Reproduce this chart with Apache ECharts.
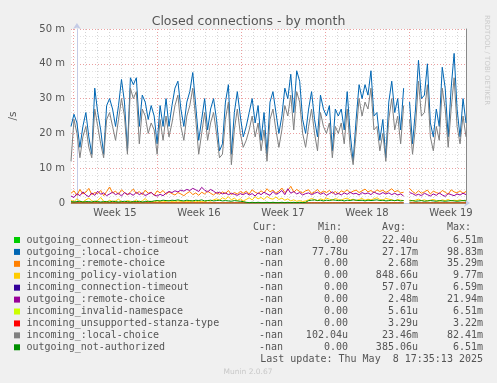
<!DOCTYPE html>
<html><head><meta charset="utf-8">
<script src="https://cdn.jsdelivr.net/npm/echarts@6/dist/echarts.min.js"></script>
<style>html,body{margin:0;padding:0;background:#f0f0f0}#c{width:497px;height:383px}</style>
</head><body><div id="c"></div><script>
// ---------- data ----------
const TITLE = 'Closed connections - by month';
const Y_UNIT = '/s';
const WEEK_LABELS = ['Week 15', 'Week 16', 'Week 17', 'Week 18', 'Week 19'];
const X_MIN = -0.5, X_MAX = 32.75, X_STEP = 0.25;   // days since Monday of week 15
const Y_MAX = 50, Y_STEP = 10;                      // in milli (m)

const SERIES_NAMES = ['outgoing_connection-timeout', 'outgoing_:local-choice', 'incoming_:remote-choice',
  'incoming_policy-violation', 'incoming_connection-timeout', 'outgoing_:remote-choice',
  'incoming_invalid-namespace', 'incoming_unsupported-stanza-type', 'incoming_:local-choice',
  'outgoing_not-authorized'];
const SERIES_COLORS = ['#00CC00', '#0066B3', '#FF8000', '#FFCC00', '#330099', '#990099',
  '#CCFF00', '#FF0000', '#808080', '#008F00'];
const CUR = ['-nan', '-nan', '-nan', '-nan', '-nan', '-nan', '-nan', '-nan', '-nan', '-nan'];
const MIN = ['0.00', '77.78u', '0.00', '0.00', '0.00', '0.00', '0.00', '0.00', '102.04u', '0.00'];
const AVG = ['22.40u', '27.17m', '2.68m', '848.66u', '57.07u', '2.48m', '5.61u', '3.29u', '23.46m', '385.06u'];
const MAX = ['6.51m', '98.83m', '35.29m', '9.77m', '6.59m', '21.94m', '6.51m', '3.22m', '82.41m', '6.51m'];
const LAST_UPDATE = 'Last update: Thu May  8 17:35:13 2025';
const FOOTER = 'Munin 2.0.67';
const SIDE_TEXT = 'RRDTOOL / TOBI OETIKER';

const outgoing_connection_timeout = [
0,0,0,0,0,0,0,0,0,0, 0,0,0,0,0,0,0,0,0,0, 0,0,0,0,0,0,0,0,0,0, 0,0,0,0,0,0,0,0,0,0,
0,0,0,0,0,0,0,0,0,0, 0,0,0,0,0,0,0,0,0,0, 0,0,0,0,0,0,0,0,0,0, 0,0,0,0,0,0,0,0,0,0,
0,0,0,0,0,0,0,0,0,0, 0,0,0,0,0,0,0,0,0,0, 0,0,0,0,0,0,0,0,0,0, 0,0,0,null,0,0,0,0,0,0,
0,0,0,0,0,0,0,0,0,0, 0,0,0,0];
const outgoing_local_choice = [
22,25.5,23,16,22,26,19,14,33,26, 21,14,28,30,27,22,28,35.5,29,15,
36,34,36,22,31,29,24,28,25,17, 28,22,30,22,28,33,35,27,22,29,
32,37.5,28,18,24,30,21,27,30,24, 15,17,29,34,14,26,32,25,19,22,
26,30,23,28,18,26,14,29,32,26, 20,25,33,30,37,26,38,35,24,20,
27,32,24,19,31,27,25,28,15,27, 25,27,21,32,20,12,24,34,30,34,
31,38,25,26,18,24,13,29,35,26, 30,21,33,null,29,17,27,41,30,31,
40,23,19,27,22,39,33,19,33,43, 27,19,30,23];
const incoming_remote_choice = [
2.8,3.5,2.2,3.9,2.6,3.1,4.2,2.4,3.0,2.7, 3.6,2.1,3.3,4.6,2.9,3.4,2.5,3.8,3.0,2.3,
3.2,4.0,2.7,3.3,2.4,3.7,2.8,3.1,2.2,3.5, 2.9,3.6,2.5,3.2,2.7,2.3,3.0,2.6,2.1,2.8,
3.3,2.4,2.9,2.2,3.1,2.6,3.4,2.8,2.3,3.0, 2.5,3.2,2.7,3.6,2.4,3.0,2.6,3.3,2.8,3.4,
2.6,3.8,3.1,2.7,3.5,2.9,4.1,3.2,3.7,2.8, 3.4,4.3,3.0,3.6,4.8,3.1,3.9,3.3,2.9,3.5,
3.8,2.7,3.2,3.9,2.9,3.4,3.0,3.6,2.8,3.3, 2.6,3.5,3.1,3.8,2.9,3.4,3.7,3.0,3.5,4.0,
3.2,3.6,2.9,3.8,3.3,3.7,3.0,3.5,4.1,3.2, 3.6,2.9,3.1,null,4.2,3.3,2.7,3.5,2.8,3.2,
3.7,2.6,3.4,3.0,2.7,3.6,3.1,2.5,3.8,3.2, 2.9,3.5,2.8,3.3];
const incoming_policy_violation = [
0.8,0.4,1.2,0.5,0.3,0.9,1.4,0.6,0.4,0.7, 1.6,0.5,0.3,0.8,0.4,0.6,1.1,0.4,0.3,0.7,
0.5,0.4,0.9,0.3,0.6,1.3,0.4,0.5,0.3,0.6, 0.4,0.3,0.5,0.7,0.4,0.3,0.6,0.4,0.3,0.5,
0.4,0.6,0.3,0.5,0.4,0.3,0.7,0.5,0.9,1.2, 0.8,1.5,1.1,1.8,0.9,1.4,0.7,1.2,0.6,1.0,
1.5,0.9,1.8,1.2,1.6,1.0,1.9,1.3,1.1,1.7, 1.0,1.4,0.8,1.2,0.6,0.9,0.5,0.7,0.4,0.6,
0.9,1.3,1.0,0.7,1.2,0.9,1.4,1.1,0.8,1.3, 1.0,0.8,1.2,1.4,0.9,1.1,0.7,1.0,1.3,0.8,
1.1,0.9,1.2,1.5,1.0,0.8,1.3,1.1,0.9,0.6, 1.0,0.8,0.7,null,0.9,0.6,0.8,1.1,0.7,0.9,
0.6,0.8,1.0,0.7,0.5,0.9,0.7,1.0,0.6,0.8, 0.7,0.9,0.6,0.8];
const incoming_connection_timeout = [
0,0,0,0,0,0,0,0,0,0, 0,0,0,0,0,0,0,0,0,0, 0,0,0,0,0,0,0,0,0,0, 0,0,0,0,0,0,0,0,0,0,
0,0,0,0,0,0,0,0,0,0, 0,0,0,0,0,0,0,0,0,0, 0,0,0,0,0,0,0,0,0,0, 0,0,0,0,0,0,0,0,0,0,
0,0,0,0,0,0,0,0,0,0, 0,0,0,0,0,0,0,0,0,0, 0,0,0,0,0,0,0,0,0,0, 0,0,0,null,0,0,0,0,0,0,
0,0,0,0,0,0,0,0,0,0, 0,0,0,0];
const outgoing_remote_choice = [
2.0,1.6,2.7,2.1,3.2,2.3,1.8,2.9,2.2,3.4, 2.5,2.9,2.1,2.6,3.1,2.4,2.8,2.0,3.0,2.5,
2.7,2.2,3.1,2.4,2.9,2.1,2.6,3.0,2.3,2.0, 2.5,2.1,2.8,3.3,3.0,3.5,3.2,3.7,3.4,3.9,
3.6,4.2,3.8,3.3,4.5,3.7,3.2,3.9,3.4,2.8, 3.1,2.6,2.9,2.4,2.8,2.5,2.2,2.7,2.4,2.9,
2.3,2.7,2.0,2.9,2.4,3.1,2.6,2.2,3.3,2.5, 2.9,3.6,2.4,4.1,2.8,3.3,2.6,3.0,2.3,2.7,
2.9,2.4,2.8,3.1,2.5,2.9,2.2,2.7,3.2,2.4, 2.8,2.3,2.9,2.5,3.1,2.6,2.8,2.3,3.0,2.6,
2.9,2.4,3.2,2.7,2.5,3.0,2.6,2.9,2.4,2.8, 2.3,2.6,2.0,null,3.0,2.7,2.2,2.5,2.1,2.8,
2.4,2.0,2.6,2.2,2.9,2.3,1.9,2.7,2.4,2.1, 2.6,2.3,2.8,2.4];
const incoming_invalid_namespace = [
0,0,0,0,0,0,0,0,0,0, 0,0,0,0,0,0,0,0,0,0, 0,0,0,0,0,0,0,0,0,0, 0,0,0,0,0,0,0,0,0,0,
0,0,0,0,0,0,0,0,0,0, 0,0,0,0,0,0,0,0,0,0, 0,0,0,0,0,0,0,0,0,0, 0,0,0,0,0,0,0,0,0,0,
0,0,0,0,0,0,0,0,0,0, 0,0,0,0,0,0,0,0,0,0, 0,0,0,0,0,0,0,0,0,0, 0,0,0,null,0,0,0,0,0,0,
0,0,0,0,0,0,0,0,0,0, 0,0,0,0];
const incoming_unsupported_stanza_type = [
0,0,0,0,0,0,0,0,0,0, 0,0,0,0,0,0,0,0,0,0, 0,0,0,0,0,0,0,0,0,0, 0,0,0,0,0,0,0,0,0,0,
0,0,0,0,0,0,0,0,0,0, 0,0,0,0,0,0,0,0,0,0, 0,0,0,0,0,0,0,0,0,0, 0,0,0,0,0,0,0,0,0,0,
0,0,0,0,0,0,0,0,0,0, 0,0,0,0,0,0,0,0,0,0, 0,0,0,0,0,0,0,0,0,0, 0,0,0,null,0,0,0,0,0,0,
0,0,0,0,0,0,0,0,0,0, 0,0,0,0];
const incoming_local_choice = [
12,24,20,13,19,22,16,13,27,22, 17,13,24,26,22,18,24,30,25,14,
33,30,32,17,27,25,20,23,21,14, 24,18,25,19,23,28,31,22,18,25,
28,33,24,14,20,26,18,23,26,20, 13,14,24,29,11,21,27,20,16,18,
21,25,19,23,15,21,12,24,27,21, 16,21,28,25,31,21,32,29,20,16,
22,27,20,15,26,22,20,23,13,22, 20,23,17,27,16,11,20,30,25,29,
27,33,21,22,15,20,12,24,30,21, 25,17,28,null,24,14,22,35,25,26,
34,19,15,22,18,33,27,16,27,36, 22,17,25,19];
const outgoing_not_authorized = [
0.4,0.3,0.4,0.5,0.3,0.4,0.4,0.3,0.5,0.4, 0.3,0.4,0.4,0.3,0.5,0.4,0.3,0.4,0.5,0.4,
0.3,0.4,0.4,0.5,0.3,0.4,0.5,0.4,0.6,0.7, 0.6,0.8,0.7,0.6,0.8,0.7,0.9,0.7,0.6,0.8,
0.7,0.6,0.8,0.7,0.9,0.6,0.7,0.8,0.6,0.7, 0.8,0.6,0.7,0.6,0.5,0.7,0.6,0.5,0.4,0.2,
0.1,0.2,0.1,0.2,0.1,0.1,0.2,0.1,0.2,0.1, 0.1,0.2,0.1,0.2,0.1,0.2,0.1,0.2,0.1,0.2,
0.7,0.8,0.9,0.7,0.8,0.6,0.8,0.7,0.9,0.8, 0.7,0.8,0.6,0.8,0.7,0.9,0.8,0.7,0.8,0.6,
0.8,0.7,0.8,0.9,0.7,0.8,0.6,0.7,0.8,0.7, 0.8,0.6,0.7,null,0.6,0.7,0.5,0.6,0.7,0.5,
0.6,0.7,0.6,0.5,0.7,0.6,0.5,0.6,0.7,0.6, 0.5,0.6,0.7,0.6];

const SERIES_VALUES = [outgoing_connection_timeout, outgoing_local_choice, incoming_remote_choice,
  incoming_policy_violation, incoming_connection_timeout, outgoing_remote_choice,
  incoming_invalid_namespace, incoming_unsupported_stanza_type, incoming_local_choice,
  outgoing_not_authorized];

// ---------- layout ----------
const GL = 67, GT = 29, GW = 399, GH = 174;
const PXD = GW / (X_MAX - X_MIN);           // px per day
const TXT = '#555';
const SANS = 'DejaVu Sans';
const MONO = 'DejaVu Sans Mono';
const MINOR = '#d4d4d4', MAJOR = '#eba0a0', AXIS = '#c4cbe6';
const DOT = [1, 2];

const chart = echarts.init(document.getElementById('c'), null, {renderer: 'canvas'});

const hiddenY = (gi) => ({gridIndex: gi, type: 'value', min: 0, max: 1, show: false});

const series = SERIES_VALUES.map((vals, k) => ({
  type: 'line', name: SERIES_NAMES[k], xAxisIndex: 0, yAxisIndex: 0,
  data: vals.map((v, i) => [X_MIN + i * X_STEP, v]),
  showSymbol: false, symbol: 'none', connectNulls: false,
  lineStyle: {color: SERIES_COLORS[k], width: 1}, itemStyle: {color: SERIES_COLORS[k]},
  animation: false, silent: true, z: 10 + k
}));

// legend as text
const graphic = [];
const COLS = [{x: 283, arr: CUR, hx: 253, h: 'Cur:'}, {x: 348, arr: MIN, hx: 318, h: 'Min:'},
  {x: 418, arr: AVG, hx: 382, h: 'Avg:'}, {x: 483, arr: MAX, hx: 447, h: 'Max:'}];
const ROW0 = 240, ROWH = 11.92;
COLS.forEach(c => graphic.push({type: 'text', style: {text: c.h, x: c.hx, y: 227.5, font: '10px ' + MONO, fill: TXT, verticalAlign: 'middle'}}));
SERIES_NAMES.forEach((n, k) => {
  const y = ROW0 + k * ROWH;
  graphic.push({type: 'rect', shape: {x: 14, y: y - 3, width: 6, height: 6}, style: {fill: SERIES_COLORS[k]}});
  graphic.push({type: 'text', style: {text: n, x: 26.5, y: y, font: '10px ' + MONO, fill: TXT, verticalAlign: 'middle'}});
  COLS.forEach(c => graphic.push({type: 'text', style: {text: c.arr[k], x: c.x, y: y, font: '10px ' + MONO, fill: TXT, align: 'right', verticalAlign: 'middle'}}));
});
graphic.push({type: 'text', style: {text: LAST_UPDATE, x: 483, y: 359.5, font: '10px ' + MONO, fill: TXT, align: 'right', verticalAlign: 'middle'}});
graphic.push({type: 'text', style: {text: FOOTER, x: 248, y: 372, font: '7.5px ' + SANS, fill: '#c8c8c8', align: 'center', verticalAlign: 'middle'}});
graphic.push({type: 'text', rotation: -Math.PI / 2, x: 487, y: 15,
  style: {text: SIDE_TEXT, x: 0, y: 0, font: '7px ' + SANS, fill: '#cccccc', align: 'left', verticalAlign: 'middle'}});

const option = {
  backgroundColor: '#f0f0f0',
  animation: false,
  title: {text: TITLE, left: 'center', top: 10, textStyle: {fontFamily: SANS, fontSize: 12.5, fontWeight: 'normal', color: '#555'}},
  grid: [
    {left: GL, top: GT, width: GW, height: GH, show: true, backgroundColor: '#ffffff', borderWidth: 0, z: -1},
    // day lines
    {left: GL + (0 - X_MIN) * PXD, top: GT, width: 32 * PXD, height: GH, show: false},
    // week lines
    {left: GL + (0 - X_MIN) * PXD, top: GT, width: 28 * PXD, height: GH, show: false},
    // week labels (centre of each week)
    {left: GL + (3.5 - X_MIN) * PXD, top: GT, width: 28 * PXD, height: GH, show: false}
  ],
  xAxis: [
    {gridIndex: 0, type: 'value', min: X_MIN, max: X_MAX,
      axisLine: {show: true, lineStyle: {color: AXIS, width: 1}, symbol: ['none', 'arrow'], symbolSize: [6, 6], symbolOffset: [0, 4]},
      axisTick: {show: false}, axisLabel: {show: false}, splitLine: {show: false}},
    {gridIndex: 1, type: 'value', min: 0, max: 32, interval: 1,
      axisLine: {show: false}, axisTick: {show: false}, axisLabel: {show: false},
      splitLine: {show: true, lineStyle: {color: MINOR, type: DOT, width: 1}}},
    {gridIndex: 2, type: 'value', min: 0, max: 4, interval: 1,
      axisLine: {show: false}, axisTick: {show: false}, axisLabel: {show: false},
      splitLine: {show: true, lineStyle: {color: MAJOR, type: DOT, width: 1}}},
    {gridIndex: 3, type: 'value', min: 0, max: WEEK_LABELS.length - 1, interval: 1,
      axisLine: {show: false}, axisTick: {show: false}, splitLine: {show: false},
      axisLabel: {show: true, margin: 5, color: TXT, fontFamily: SANS, fontSize: 10,
        formatter: v => WEEK_LABELS[Math.round(v)] || ''}}
  ],
  yAxis: [
    {gridIndex: 0, type: 'value', min: 0, max: Y_MAX, interval: Y_STEP,
      name: Y_UNIT, nameLocation: 'middle', nameRotate: 90, nameGap: 52,
      nameTextStyle: {color: TXT, fontFamily: SANS, fontSize: 10.5},
      axisLine: {show: true, lineStyle: {color: AXIS, width: 1}, symbol: ['none', 'arrow'], symbolSize: [6, 6], symbolOffset: [0, 6]},
      axisTick: {show: false},
      axisLabel: {color: TXT, fontFamily: SANS, fontSize: 10, margin: 6, formatter: v => v === 0 ? '0' : v + ' m'},
      splitLine: {show: true, lineStyle: {color: MAJOR, type: DOT, width: 1}},
      minorTick: {show: false, splitNumber: 5},
      minorSplitLine: {show: true, lineStyle: {color: '#e2e2e2', type: DOT, width: 1}}},
    {gridIndex: 0, type: 'value', min: 0, max: Y_MAX, position: 'right',
      axisLine: {show: true, onZero: false, lineStyle: {color: '#888', width: 1}},
      axisTick: {show: false}, axisLabel: {show: false}, splitLine: {show: false}},
    hiddenY(1), hiddenY(2), hiddenY(3)
  ],
  series: series,
  graphic: graphic
};
chart.setOption(option);
</script></body></html>
